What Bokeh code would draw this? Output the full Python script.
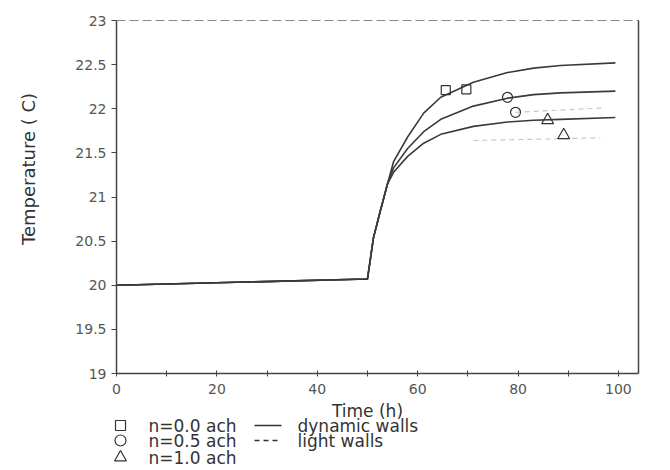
import math
from bokeh.plotting import figure
from bokeh.layouts import row, column
from bokeh.models import LinearAxis, FixedTicker, Range1d
from bokeh.core.properties import value
from bokeh.embed import file_html
from bokeh.resources import INLINE

# ---- data ----
time_h = [0, 50.0, 51.2, 52.6, 54.0, 55.2, 58.0, 61.2, 64.6, 71.1, 77.9, 83.1, 88.5, 99.4]
dyn_n00 = [20.00, 20.07, 20.54, 20.85, 21.15, 21.40, 21.68, 21.95, 22.13, 22.30, 22.41, 22.46, 22.49, 22.52]
dyn_n05 = [20.00, 20.07, 20.54, 20.85, 21.15, 21.33, 21.55, 21.74, 21.88, 22.03, 22.12, 22.16, 22.18, 22.20]
dyn_n10 = [20.00, 20.07, 20.54, 20.85, 21.15, 21.28, 21.46, 21.61, 21.71, 21.80, 21.85, 21.87, 21.88, 21.90]

light_t_05 = [79.5, 97.4]
light_T_05 = [21.96, 22.01]
light_t_10 = [71.1, 96.4]
light_T_10 = [21.64, 21.67]

sq_t = [65.6, 69.7]
sq_T = [22.21, 22.22]
ci_t = [77.9, 79.5]
ci_T = [22.13, 21.96]
tr_t = [85.9, 89.1]
tr_T = [21.87, 21.70]

x_ticks = [0, 20, 40, 60, 80, 100]
x_minor = [10, 30, 50, 70, 90]
y_ticks = [19, 19.5, 20, 20.5, 21, 21.5, 22, 22.5, 23]
y_tick_labels = ["19", "19.5", "20", "20.5", "21", "21.5", "22", "22.5", "23"]

legend_markers = ["square", "circle", "triangle"]
legend_ach = ["n=0.0 ach", "n=0.5 ach", "n=1.0 ach"]
legend_walls = ["dynamic walls", "light walls"]
y_title = "Temperature ( C)"
x_title = "Time (h)"

FONT = "DejaVu Sans"
INK = "#444444"
TXT = "#555555"
DARK = "#333333"

H_MAIN = 402
H_LEG = 66


def blank(w, h, xr, yr):
    f = figure(width=w, height=h, x_range=Range1d(*xr), y_range=Range1d(*yr),
               output_backend="svg", toolbar_location=None,
               min_border=0, min_border_left=0, min_border_right=0,
               min_border_top=0, min_border_bottom=0)
    f.axis.visible = False
    f.grid.visible = False
    f.outline_line_color = None
    return f


# ---- main plot ----
p = figure(width=604, height=H_MAIN, x_range=Range1d(0, 104), y_range=Range1d(19, 23),
           output_backend="svg", toolbar_location=None,
           min_border_left=66, min_border_right=16, min_border_top=20, min_border_bottom=29)
p.outline_line_color = None
p.xgrid.grid_line_color = None
p.ygrid.grid_line_color = None

for ax in (p.xaxis[0], p.yaxis[0]):
    ax.axis_line_color = INK
    ax.axis_line_width = 1.5
    ax.major_tick_line_color = INK
    ax.minor_tick_line_color = INK
    ax.major_label_text_font = FONT
    ax.major_label_text_font_size = "14px"
    ax.major_label_text_color = TXT

p.xaxis[0].ticker = FixedTicker(ticks=x_ticks, minor_ticks=x_minor)
p.xaxis[0].major_tick_in = 3
p.xaxis[0].major_tick_out = 3
p.xaxis[0].minor_tick_in = 3
p.xaxis[0].minor_tick_out = 3
p.xaxis[0].major_label_standoff = 7

p.yaxis[0].ticker = FixedTicker(ticks=y_ticks, minor_ticks=[])
p.yaxis[0].major_label_overrides = {t: s for t, s in zip(y_ticks, y_tick_labels)}
p.yaxis[0].major_tick_in = 0
p.yaxis[0].major_tick_out = 5
p.yaxis[0].major_label_standoff = 5

top = LinearAxis(ticker=FixedTicker(ticks=[]), major_label_text_font_size="0px",
                 axis_line_color="#888888", axis_line_width=1.2, axis_line_dash="9 4")
p.add_layout(top, "above")
right = LinearAxis(ticker=FixedTicker(ticks=[]), major_label_text_font_size="0px",
                   axis_line_color=INK, axis_line_width=1.5)
p.add_layout(right, "right")

for ys in (dyn_n00, dyn_n05, dyn_n10):
    p.line(time_h, ys, line_color="#3a3a3a", line_width=1.6)

p.line(light_t_05, light_T_05, line_color="#c8c8c8", line_width=1.2, line_dash="5 4")
p.line(light_t_10, light_T_10, line_color="#c8c8c8", line_width=1.2, line_dash="5 4")

p.scatter(sq_t, sq_T, marker="square", size=9, fill_color=None, line_color=DARK, line_width=1.2)
p.scatter(ci_t, ci_T, marker="circle", size=10, fill_color=None, line_color=DARK, line_width=1.2)
p.scatter(tr_t, tr_T, marker="triangle", size=12, fill_color=None, line_color=DARK, line_width=1.2)

# ---- y axis title panel (pixel coordinates) ----
tf = blank(50, H_MAIN, (0, 50), (0, H_MAIN))
tf.text(x=[28], y=[H_MAIN - 169], text=[y_title], angle=math.pi / 2,
        text_font=value(FONT), text_font_size="18px", text_color=DARK,
        text_align="center", text_baseline="middle")

# ---- x title + legend panel (pixel coordinates) ----
lf = blank(654, H_LEG, (0, 654), (0, H_LEG))
lf.text(x=[367], y=[H_LEG - 8], text=[x_title], text_font=value(FONT),
        text_font_size="17px", text_color=DARK, text_align="center", text_baseline="middle")
row_y = [H_LEG - 23, H_LEG - 38, H_LEG - 55]
for i in range(3):
    lf.scatter([120], [row_y[i]], marker=legend_markers[i], size=[10, 11, 12][i],
               fill_color=None, line_color=DARK, line_width=1.2)
lf.text(x=[148] * 3, y=row_y, text=legend_ach, text_font=value(FONT),
        text_font_size="17px", text_color=DARK, text_align="left", text_baseline="middle")
lf.line([254, 281], [row_y[0], row_y[0]], line_color=DARK, line_width=1.3)
lf.line([254, 281], [row_y[1], row_y[1]], line_color=DARK, line_width=1.3, line_dash="5 4")
lf.text(x=[297] * 2, y=row_y[:2], text=legend_walls, text_font=value(FONT),
        text_font_size="17px", text_color=DARK, text_align="left", text_baseline="middle")

layout = column(row(tf, p), lf)
open("out.html", "w").write(file_html(layout, INLINE))
